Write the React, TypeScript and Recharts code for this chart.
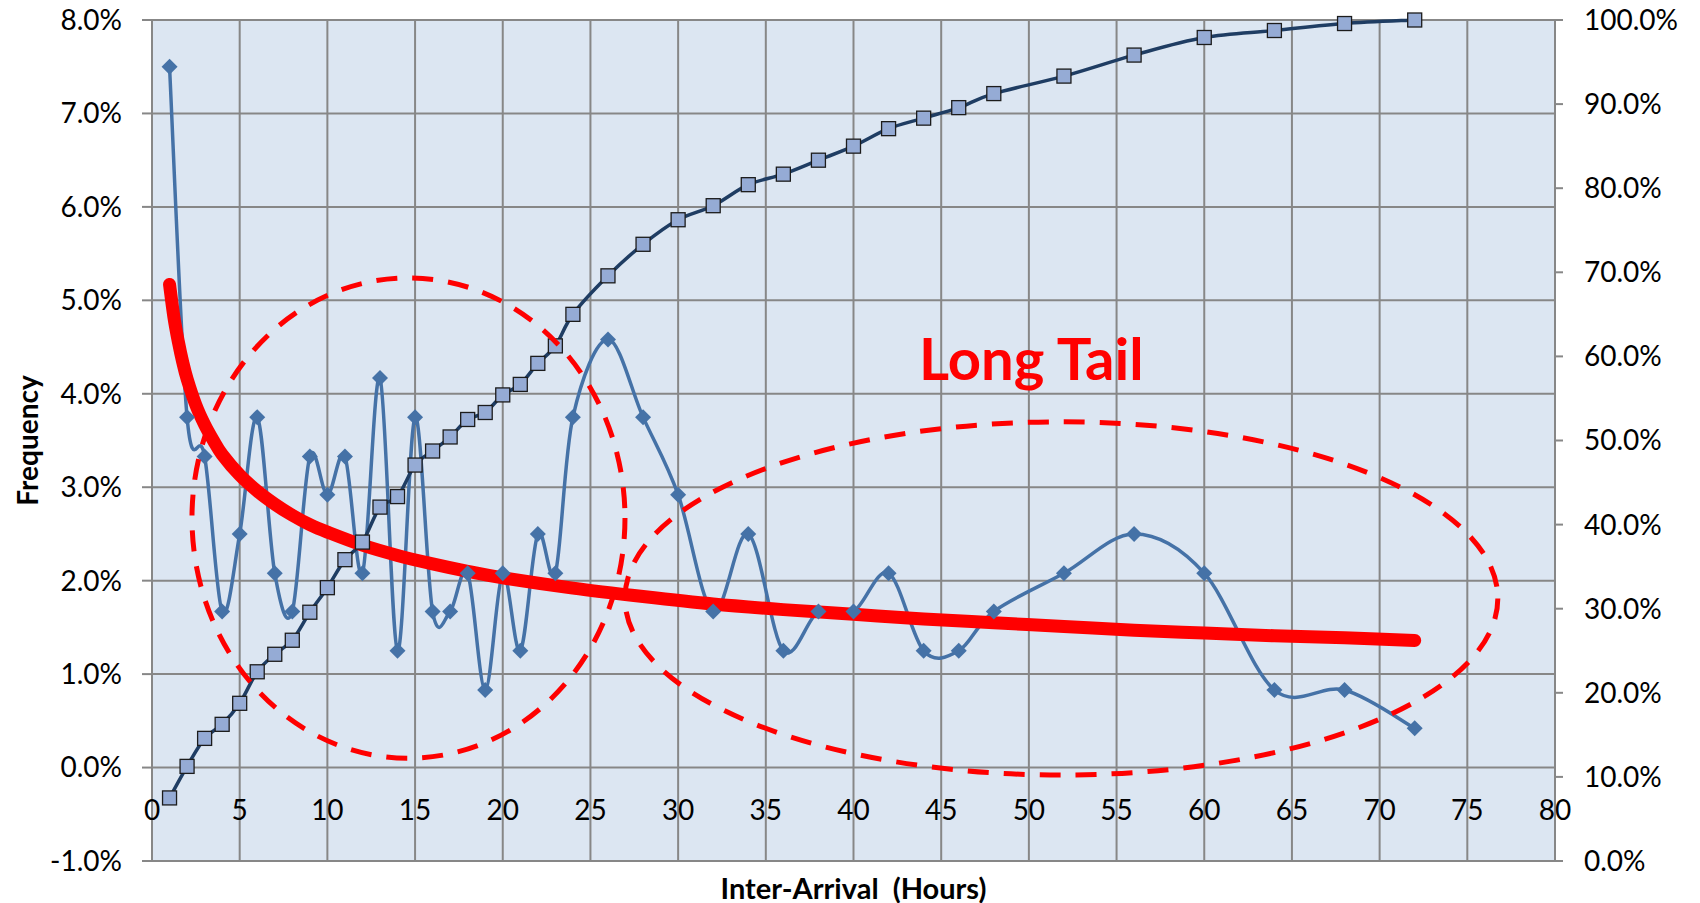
import {
  CartesianGrid,
  ComposedChart,
  Line,
  ReferenceArea,
  ReferenceDot,
  XAxis,
  YAxis,
} from "recharts";

// hours between arrivals (x) and what share of arrivals fell in each bucket
const HOURS = [
  1, 2, 3, 4, 5, 6, 7, 8, 9, 10, 11, 12, 13, 14, 15, 16, 17, 18, 19, 20, 21,
  22, 23, 24, 26, 28, 30, 32, 34, 36, 38, 40, 42, 44, 46, 48, 52, 56, 60, 64,
  68, 72,
];
const FREQUENCY = [
  7.5, 3.75, 3.33, 1.67, 2.5, 3.75, 2.08, 1.67, 3.33, 2.92, 3.33, 2.08, 4.17,
  1.25, 3.75, 1.67, 1.67, 2.08, 0.83, 2.08, 1.25, 2.5, 2.08, 3.75, 4.58, 3.75,
  2.92, 1.67, 2.5, 1.25, 1.67, 1.67, 2.08, 1.25, 1.25, 1.67, 2.08, 2.5, 2.08,
  0.83, 0.83, 0.42,
];
const CUMULATIVE = [
  7.5, 11.25, 14.58, 16.25, 18.75, 22.5, 24.58, 26.25, 29.58, 32.5, 35.83,
  37.92, 42.08, 43.33, 47.08, 48.75, 50.42, 52.5, 53.33, 55.42, 56.67, 59.17,
  61.25, 65.0, 69.58, 73.33, 76.25, 77.92, 80.42, 81.67, 83.33, 85.0, 87.08,
  88.33, 89.58, 91.25, 93.33, 95.83, 97.92, 98.75, 99.58, 100,
];

// the thick red trend curve
const TREND_HOURS = [
  1, 1.25, 1.5, 1.75, 2, 2.5, 3, 3.5, 4, 5, 6, 7, 8, 9, 10, 12, 14, 16, 18, 20,
  24, 28, 32, 36, 40, 44, 48, 52, 56, 60, 64, 68, 72,
];
const TREND = [
  5.17, 4.82, 4.56, 4.34, 4.16, 3.88, 3.67, 3.5, 3.35, 3.13, 2.96, 2.82, 2.7,
  2.6, 2.52, 2.38, 2.27, 2.18, 2.1, 2.03, 1.92, 1.83, 1.75, 1.69, 1.64, 1.59,
  1.55, 1.51, 1.47, 1.44, 1.41, 1.39, 1.36,
];

const X_TICKS = [0, 5, 10, 15, 20, 25, 30, 35, 40, 45, 50, 55, 60, 65, 70, 75, 80];
const LEFT_TICKS = [-1, 0, 1, 2, 3, 4, 5, 6, 7, 8];
const RIGHT_TICKS = [0, 10, 20, 30, 40, 50, 60, 70, 80, 90, 100];

// dashed ovals: [x1, x2, y1, y2] in hours / frequency %
const HEAD_OVAL = [2.28, 26.97, 0.1, 5.24];
const TAIL_OVAL = [26.97, 76.74, -0.08, 3.7];
const TAIL_LABEL = { x: 50.14, y: 4.15, text: "Long Tail" };

const FONT = "Lato, 'Open Sans', sans-serif";
const GRID = "#878787";
const RED = "#ff0000";

const rows = HOURS.map((h, i) => ({
  hours: h,
  freq: FREQUENCY[i],
  cum: CUMULATIVE[i],
}));
const trendRows = TREND_HOURS.map((h, i) => ({ hours: h, trend: TREND[i] }));

// Excel-ish smoothed line (Catmull-Rom through every point)
function excelSmooth(context: any) {
  let pts: number[][] = [];
  return {
    areaStart() {},
    areaEnd() {},
    lineStart() {
      pts = [];
    },
    point(x: number, y: number) {
      pts.push([+x, +y]);
    },
    lineEnd() {
      const n = pts.length;
      if (!n) return;
      context.moveTo(pts[0][0], pts[0][1]);
      for (let i = 0; i < n - 1; i++) {
        const p0 = pts[i - 1] ?? pts[i];
        const p1 = pts[i];
        const p2 = pts[i + 1];
        const p3 = pts[i + 2] ?? p2;
        context.bezierCurveTo(
          p1[0] + (p2[0] - p0[0]) / 6,
          p1[1] + (p2[1] - p0[1]) / 6,
          p2[0] - (p3[0] - p1[0]) / 6,
          p2[1] - (p3[1] - p1[1]) / 6,
          p2[0],
          p2[1],
        );
      }
    },
  };
}

function Diamond(p: any) {
  if (p.cx == null || p.cy == null) return <g key={`d${p.index}`} />;
  const r = 8;
  return (
    <path
      key={`d${p.index}`}
      d={`M${p.cx},${p.cy - r}L${p.cx + r},${p.cy}L${p.cx},${p.cy + r}L${p.cx - r},${p.cy}Z`}
      fill="#4572a7"
    />
  );
}

function Square(p: any) {
  if (p.cx == null || p.cy == null) return <g key={`s${p.index}`} />;
  return (
    <rect
      key={`s${p.index}`}
      x={p.cx - 7}
      y={p.cy - 7}
      width={14}
      height={14}
      fill="#95abd5"
      stroke="#1c1c1c"
      strokeWidth={1.3}
    />
  );
}

function DashedOval(p: any) {
  return (
    <ellipse
      cx={p.x + p.width / 2}
      cy={p.y + p.height / 2}
      rx={Math.abs(p.width) / 2}
      ry={Math.abs(p.height) / 2}
      fill="none"
      stroke={RED}
      strokeWidth={5}
      strokeDasharray="21 15"
    />
  );
}

const pct = (v: number) => `${v.toFixed(1)}%`;

export default function App() {
  return (
    <div
      style={{
        position: "absolute",
        left: 0,
        top: 0,
        width: 1700,
        height: 903,
        background: "#fff",
      }}
    >
      <ComposedChart
        width={1700}
        height={903}
        data={rows}
        margin={{ top: 20, right: 0, bottom: 0, left: 0 }}
      >
        <CartesianGrid
          yAxisId="left"
          stroke={GRID}
          strokeWidth={2}
          fill="#dce6f2"
          fillOpacity={1}
        />
        <XAxis
          dataKey="hours"
          type="number"
          domain={[0, 80]}
          ticks={X_TICKS}
          height={42}
          axisLine={false}
          tickLine={false}
          tick={(p: any) => (
            <text
              key={`x${p.index}`}
              x={p.x}
              y={809}
              textAnchor="middle"
              dominantBaseline="central"
              fontFamily={FONT}
              fontSize={28}
              fill="#000"
            >
              {p.payload.value}
            </text>
          )}
          label={{
            content: (props: any) => {
              const vb = props.viewBox;
              return (
                <text
                  x={vb.x + vb.width / 2}
                  y={887}
                  textAnchor="middle"
                  dominantBaseline="central"
                  fontFamily={FONT}
                  fontWeight="bold"
                  fontSize={29}
                  fill="#000"
                  style={{ whiteSpace: "pre" }}
                >
                  {"Inter-Arrival  (Hours)"}
                </text>
              );
            },
          }}
        />
        <YAxis
          yAxisId="left"
          orientation="left"
          width={152}
          domain={[-1, 8]}
          ticks={LEFT_TICKS}
          allowDataOverflow
          tickFormatter={pct}
          tickSize={10}
          tickMargin={20}
          axisLine={{ stroke: GRID, strokeWidth: 2 }}
          tickLine={{ stroke: GRID, strokeWidth: 2 }}
          tick={{ fontSize: 28, fill: "#000", fontFamily: FONT }}
          label={{
            content: (props: any) => {
              const vb = props.viewBox;
              const cx = 27;
              const cy = vb.y + vb.height / 2;
              return (
                <text
                  x={cx}
                  y={cy}
                  transform={`rotate(-90 ${cx} ${cy})`}
                  textAnchor="middle"
                  dominantBaseline="central"
                  fontFamily={FONT}
                  fontWeight="bold"
                  fontSize={28}
                  fill="#000"
                >
                  Frequency
                </text>
              );
            },
          }}
        />
        <YAxis
          yAxisId="right"
          orientation="right"
          width={145}
          domain={[0, 100]}
          ticks={RIGHT_TICKS}
          tickFormatter={pct}
          tickSize={8}
          tickMargin={21}
          axisLine={{ stroke: GRID, strokeWidth: 2 }}
          tickLine={{ stroke: GRID, strokeWidth: 2 }}
          tick={{ fontSize: 28, fill: "#000", fontFamily: FONT, textAnchor: "start" }}
        />

        <Line
          yAxisId="left"
          dataKey="freq"
          type={excelSmooth as any}
          stroke="#4572a7"
          strokeWidth={3.5}
          dot={Diamond}
          activeDot={false}
          isAnimationActive={false}
        />
        <Line
          yAxisId="right"
          dataKey="cum"
          type={excelSmooth as any}
          stroke="#1f3d63"
          strokeWidth={3.5}
          dot={Square}
          activeDot={false}
          isAnimationActive={false}
        />
        <Line
          yAxisId="left"
          data={trendRows}
          dataKey="trend"
          type={excelSmooth as any}
          stroke={RED}
          strokeWidth={13}
          strokeLinecap="round"
          dot={false}
          activeDot={false}
          isAnimationActive={false}
        />

        <ReferenceArea
          yAxisId="left"
          x1={HEAD_OVAL[0]}
          x2={HEAD_OVAL[1]}
          y1={HEAD_OVAL[2]}
          y2={HEAD_OVAL[3]}
          shape={DashedOval}
          zIndex={1000}
        />
        <ReferenceArea
          yAxisId="left"
          x1={TAIL_OVAL[0]}
          x2={TAIL_OVAL[1]}
          y1={TAIL_OVAL[2]}
          y2={TAIL_OVAL[3]}
          shape={DashedOval}
          zIndex={1000}
        />
        <ReferenceDot
          yAxisId="left"
          x={TAIL_LABEL.x}
          y={TAIL_LABEL.y}
          r={0}
          zIndex={1000}
          shape={(p: any) => (
            <text
              x={p.cx}
              y={p.cy}
              textAnchor="middle"
              fontFamily={FONT}
              fontWeight="bold"
              fontSize={58}
              fill={RED}
            >
              {TAIL_LABEL.text}
            </text>
          )}
        />
      </ComposedChart>
    </div>
  );
}
